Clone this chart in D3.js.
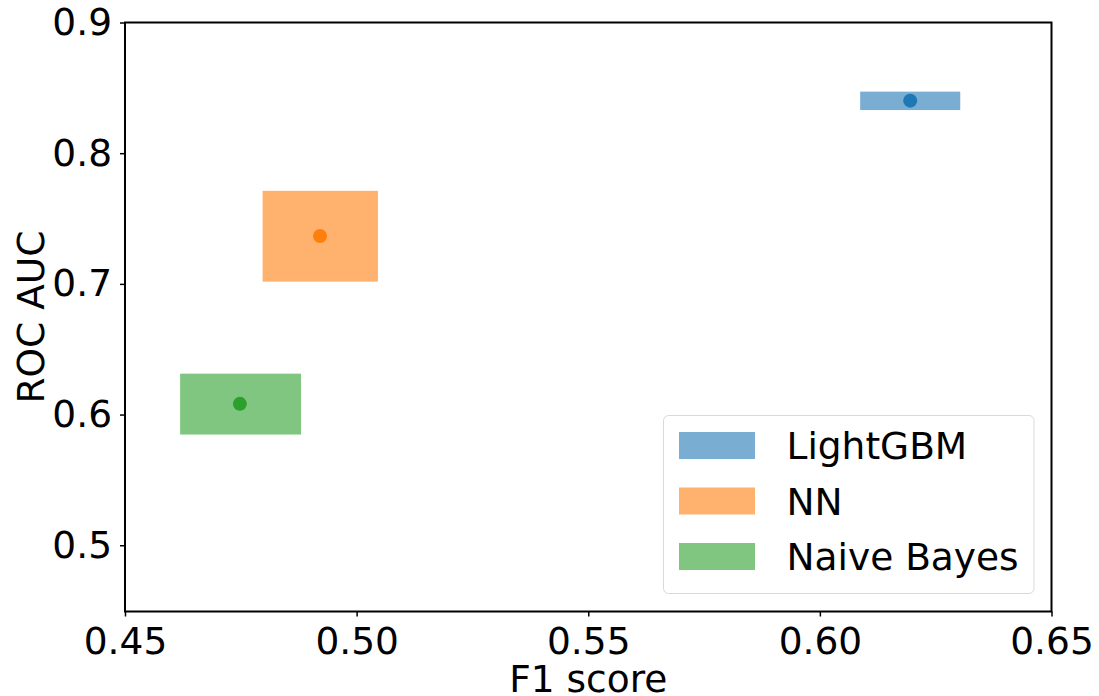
<!DOCTYPE html>
<html>
<head>
<meta charset="utf-8">
<script src="https://cdn.jsdelivr.net/npm/d3@7"></script>
<style>
  body { margin: 0; background: #fff; }
  svg { display: block; font-family: "DejaVu Sans", sans-serif; }
</style>
</head>
<body>
<div id="chart"></div>
<script>
// models and their scores
var models = ["LightGBM", "NN", "Naive Bayes"]
var colors = ["#1f77b4", "#ff7f0e", "#2ca02c"]
// mean point
var f1Mean = [0.6195, 0.4921, 0.4748]
var aucMean = [0.8402, 0.7366, 0.6082]
// spread (min / max) drawn as boxes
var f1Low = [0.6087, 0.4797, 0.4619]
var f1High = [0.6303, 0.5046, 0.4880]
var aucLow = [0.8330, 0.7017, 0.5847]
var aucHigh = [0.8471, 0.7712, 0.6313]

var xTicks = [0.45, 0.50, 0.55, 0.60, 0.65]
var yTicks = [0.5, 0.6, 0.7, 0.8, 0.9]

var W = 1099, H = 696
var margin = {top: 22.5, right: 47.5, bottom: 84.5, left: 125}
var width = W - margin.left - margin.right
var height = H - margin.top - margin.bottom
var fs = "37.5px"

var svg = d3.select("#chart").append("svg")
  .attr("width", W)
  .attr("height", H)
var g = svg.append("g")
  .attr("transform", "translate(" + margin.left + "," + margin.top + ")")

var x = d3.scaleLinear().domain([0.45, 0.65]).range([0, width])
var y = d3.scaleLinear().domain([0.4493, 0.9]).range([height, 0])

var data = models.map(function(m, i) {
  return {name: m, color: colors[i], fx: f1Mean[i], fy: aucMean[i],
    x0: f1Low[i], x1: f1High[i], y0: aucLow[i], y1: aucHigh[i]}
})

// boxes
g.selectAll(".box")
  .data(data)
  .enter()
  .append("rect")
  .attr("class", "box")
  .attr("x", d => x(d.x0))
  .attr("y", d => y(d.y1))
  .attr("width", d => x(d.x1) - x(d.x0))
  .attr("height", d => y(d.y0) - y(d.y1))
  .attr("fill", d => d.color)
  .attr("fill-opacity", 0.6)

// mean dots
g.selectAll(".dot")
  .data(data)
  .enter()
  .append("circle")
  .attr("class", "dot")
  .attr("cx", d => x(d.fx))
  .attr("cy", d => y(d.fy))
  .attr("r", 7)
  .attr("fill", d => d.color)

// axes
var xAxis = g.append("g")
  .attr("transform", "translate(0," + height + ")")
  .call(d3.axisBottom(x).tickValues(xTicks).tickFormat(d3.format(".2f")).tickSize(5).tickPadding(8))
var yAxis = g.append("g")
  .call(d3.axisLeft(y).tickValues(yTicks).tickFormat(d3.format(".1f")).tickSize(5).tickPadding(8))

;[xAxis, yAxis].forEach(function(a) {
  a.select(".domain").remove()
  a.selectAll(".tick line").attr("stroke", "#000").attr("stroke-width", 1.5)
  a.selectAll(".tick text")
    .attr("fill", "#000")
    .style("font-size", fs)
    .style("font-family", "DejaVu Sans")
})
xAxis.selectAll(".tick text").attr("dy", "0.78em")

// frame
g.append("rect")
  .attr("width", width)
  .attr("height", height)
  .attr("fill", "none")
  .attr("stroke", "#000")
  .attr("stroke-width", 2)

// axis labels
svg.append("text")
  .attr("x", margin.left + width / 2)
  .attr("y", 692)
  .attr("text-anchor", "middle")
  .style("font-size", fs)
  .text("F1 score")
svg.append("text")
  .attr("transform", "translate(44," + (margin.top + height / 2) + ") rotate(-90)")
  .attr("text-anchor", "middle")
  .style("font-size", fs)
  .text("ROC AUC")

// legend
var leg = svg.append("g").attr("transform", "translate(663.5,415.5)")
leg.append("rect")
  .attr("width", 370.5)
  .attr("height", 178)
  .attr("rx", 5)
  .attr("fill", "#fff")
  .attr("fill-opacity", 0.8)
  .attr("stroke", "#d9d9d9")
  .attr("stroke-width", 1)
var item = leg.selectAll(".item")
  .data(data)
  .enter()
  .append("g")
  .attr("class", "item")
  .attr("transform", (d, i) => "translate(0," + (i * 55.5) + ")")
item.append("rect")
  .attr("x", 15.5)
  .attr("y", 16.5)
  .attr("width", 76)
  .attr("height", 27)
  .attr("fill", d => d.color)
  .attr("fill-opacity", 0.6)
item.append("text")
  .attr("x", 123)
  .attr("y", 43.5)
  .style("font-size", fs)
  .text(d => d.name)
</script>
</body>
</html>
